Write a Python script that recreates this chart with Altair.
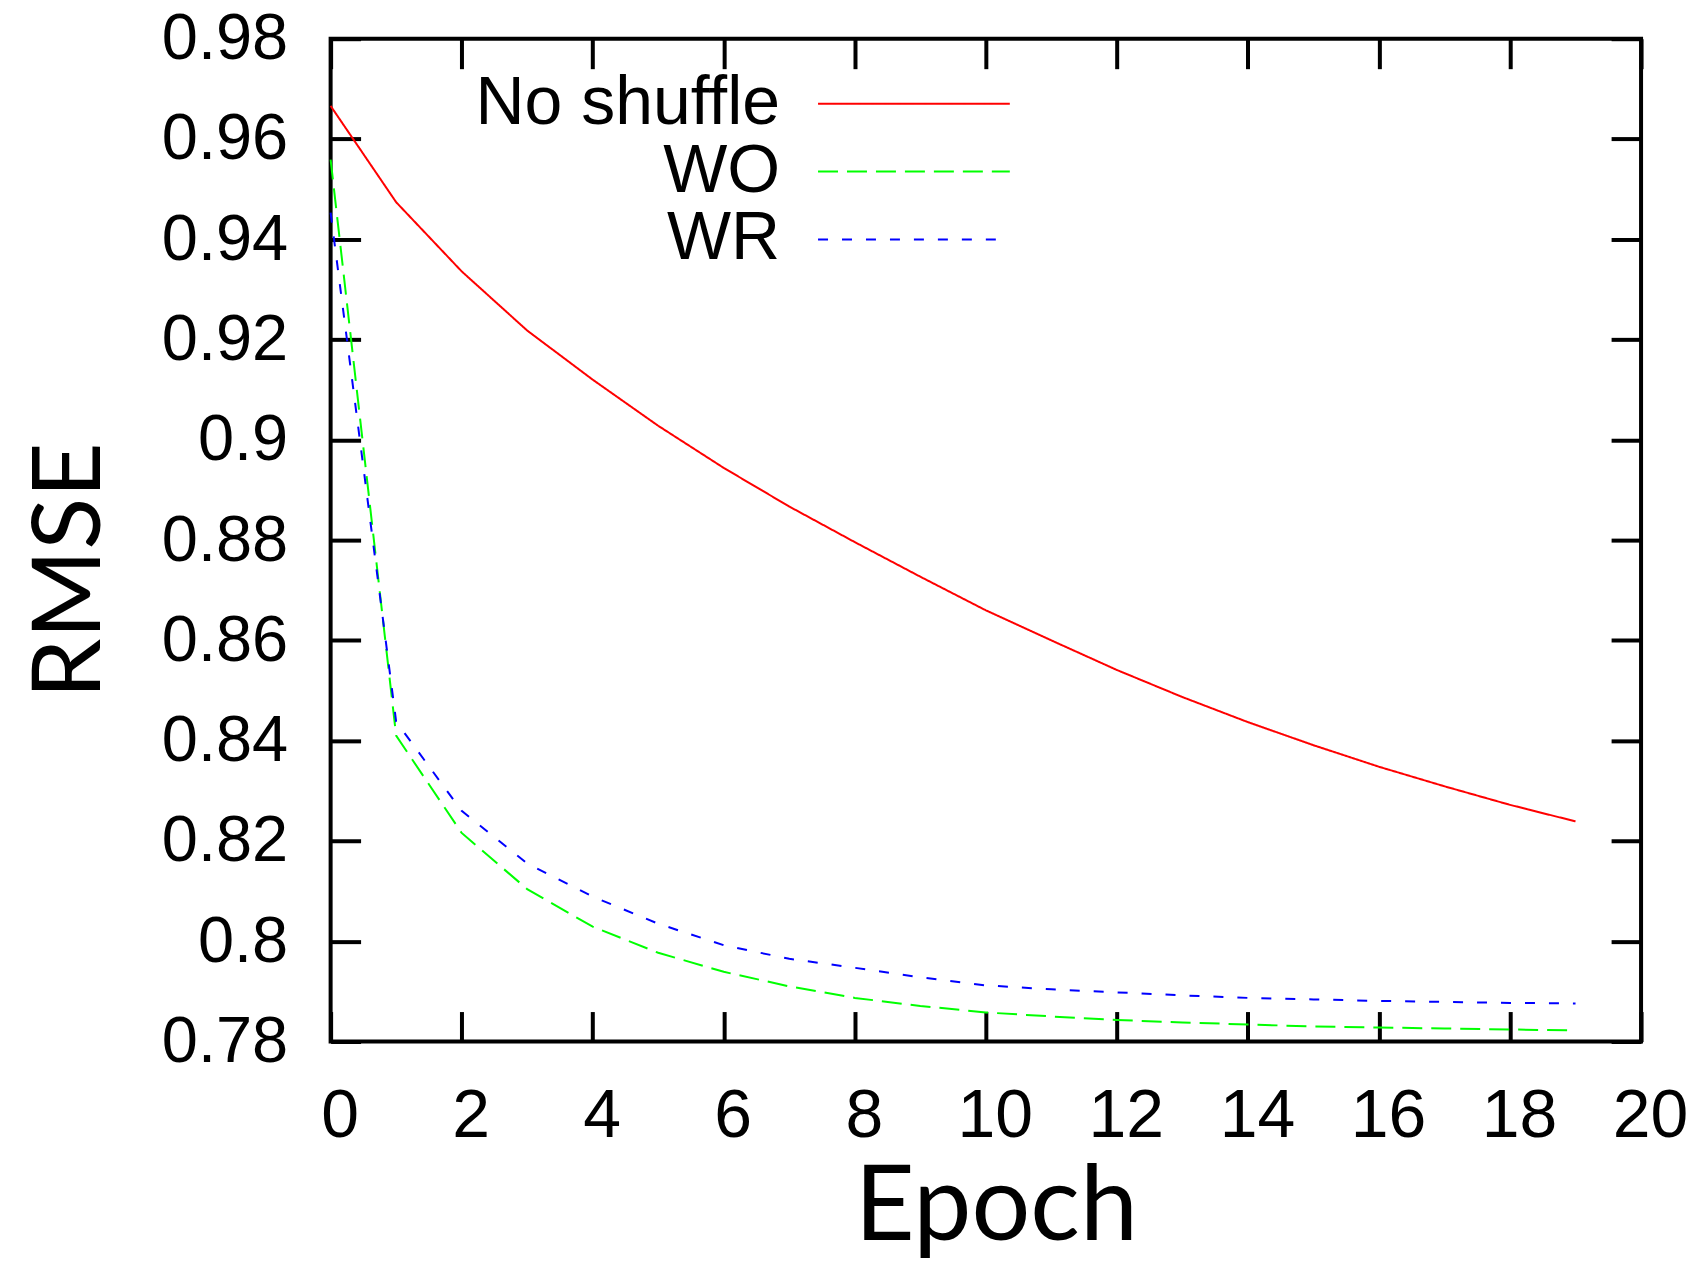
import altair as alt
import pandas as pd

epochs = list(range(20))
series_names = ["No shuffle", "WO", "WR"]
no_shuffle = [0.9666, 0.9474, 0.9336, 0.9218, 0.9120, 0.9028, 0.8944, 0.8867, 0.8796,
              0.8727, 0.8660, 0.8600, 0.8541, 0.8487, 0.8437, 0.8391, 0.8348, 0.8309,
              0.8272, 0.8239]
wo = [0.9559, 0.8410, 0.8216, 0.8104, 0.8029, 0.7977, 0.7939, 0.7910, 0.7887, 0.7871,
      0.7858, 0.7850, 0.7843, 0.7838, 0.7834, 0.7830, 0.7828, 0.7826, 0.7824, 0.7822]
wr = [0.9453, 0.8438, 0.8260, 0.8155, 0.8089, 0.8035, 0.7992, 0.7965, 0.7947, 0.7928,
      0.7912, 0.7904, 0.7898, 0.7892, 0.7887, 0.7884, 0.7881, 0.7879, 0.7877, 0.7876]
x_ticks = list(range(0, 21, 2))
y_ticks = [round(0.78 + 0.02 * i, 2) for i in range(11)]
colors = ["#ff0000", "#00ff00", "#0000ff"]
dashes = [[1, 0], [20, 9], [10, 14]]

rows = []
for name, vals in zip(series_names, [no_shuffle, wo, wr]):
    for e, v in zip(epochs, vals):
        rows.append({"Epoch": e, "RMSE": v, "series": name})
df = pd.DataFrame(rows)

xscale = alt.Scale(domain=[0, 20], nice=False, zero=False)
yscale = alt.Scale(domain=[0.78, 0.98], nice=False, zero=False)

legend = alt.Legend(
    orient="none", legendX=550, legendY=31, title=None,
    symbolType="M-4,0H4", symbolSize=2304, symbolStrokeWidth=2,
    labelFont="Liberation Sans", labelFontSize=68, labelColor="black",
    labelAlign="right", labelOffset={"expr": "-168"}, labelLimit=1000,
    rowPadding=0, padding=0,
)

lines = alt.Chart(df).mark_line(strokeWidth=2).encode(
    x=alt.X("Epoch:Q", scale=xscale, axis=alt.Axis(
        values=x_ticks, format="d", domain=False, grid=False,
        offset=-30, tickSize=30, tickWidth=4, tickColor="black",
        labelFont="Liberation Sans", labelFontSize=68, labelColor="black",
        labelBaseline="alphabetic", labelPadding=95, labelOffset=9,
        labelFlush=False, labelOverlap=False,
        title="Epoch", titleFont="Lato", titleFontSize=104, titleFontWeight="normal",
        titleColor="black", titleX=666, titleY=228, titleAlign="center",
        titleBaseline="alphabetic")),
    y=alt.Y("RMSE:Q", scale=yscale, axis=alt.Axis(
        values=y_ticks, format=".2~f", domain=False, grid=False,
        offset=-30, tickSize=30, tickWidth=4, tickColor="black",
        labelFont="Liberation Sans", labelFontSize=65, labelColor="black",
        labelPadding=43, labelFlush=False, labelOverlap=False,
        title="RMSE", titleFont="Lato", titleFontSize=96, titleFontWeight="normal",
        titleColor="black", titleX=-261, titleY=532, titleAlign="center",
        titleBaseline="alphabetic", titleAngle=270)),
    color=alt.Color("series:N", scale=alt.Scale(domain=series_names, range=colors),
                    legend=legend),
    strokeDash=alt.StrokeDash("series:N", scale=alt.Scale(domain=series_names, range=dashes),
                              legend=legend),
)

mirror = alt.Chart(df).mark_point(opacity=0).encode(
    x=alt.X("Epoch:Q", scale=xscale, axis=alt.Axis(
        orient="top", values=x_ticks, labels=False, domain=False, grid=False,
        offset=-30, tickSize=30, tickWidth=4, tickColor="black", title=None)),
    y=alt.Y("RMSE:Q", scale=yscale, axis=alt.Axis(
        orient="right", values=y_ticks, labels=False, domain=False, grid=False,
        offset=-30, tickSize=30, tickWidth=4, tickColor="black", title=None)),
)

chart = alt.layer(lines, mirror).resolve_axis(
    x="independent", y="independent"
).properties(
    width=1312, height=1004,
    autosize=alt.AutoSizeParams(type="none"),
    padding={"left": 323, "top": 30, "right": 48, "bottom": 222},
    background="white",
).configure_view(stroke="black", strokeWidth=4)

chart.save("out.html", embed_options={"renderer": "svg", "actions": False})
